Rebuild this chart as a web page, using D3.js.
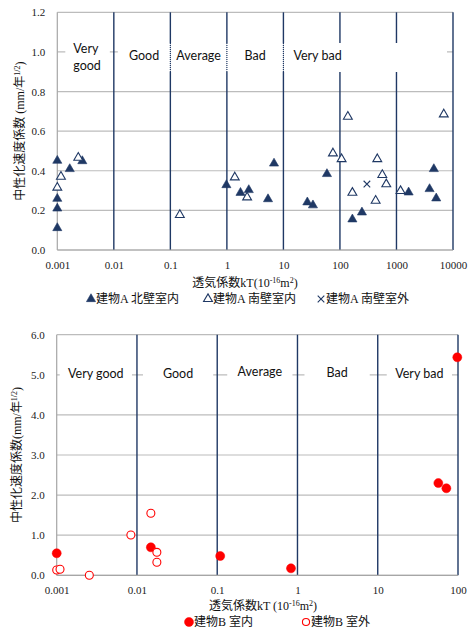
<!DOCTYPE html>
<html>
<head>
<meta charset="utf-8">
<script src="https://cdn.jsdelivr.net/npm/d3@7"></script>
<style>
  html, body { margin: 0; padding: 0; background: #fff; }
  svg { display: block; }
  .grade { font-family: Lato, "Open Sans", sans-serif; font-size: 12.5px; fill: #111; }
  .title { font-family: "Liberation Serif", "Noto Sans CJK JP", serif; font-size: 12px; fill: #111; }
</style>
</head>
<body>
<svg id="chart" width="470" height="630"></svg>
<script>
// Permeability grade boundaries (kT, 10^-16 m^2) and their labels
const gradeEdges = [0.001, 0.01, 0.1, 1, 10, 100];
const gradeNames = ["Very good", "Good", "Average", "Bad", "Very bad"];

// Building A: x-axis ticks and y-axis ticks
const xTicksA = [0.001, 0.01, 0.1, 1, 10, 100, 1000, 10000];
const xTickLabelsA = ["0.001", "0.01", "0.1", "1", "10", "100", "1000", "10000"];
const yTicksA = [0, 0.2, 0.4, 0.6, 0.8, 1.0, 1.2];

// Building A, north wall, indoor side
const aNorthInKT = [0.001, 0.001, 0.001, 0.001, 0.00166, 0.00277, 0.98, 1.74, 2.44, 5.34, 6.82, 26.5, 33.3, 58.9, 166, 245, 1640, 3850, 4580, 5050];
const aNorthInV  = [0.451, 0.259, 0.21, 0.111, 0.409, 0.449, 0.328, 0.289, 0.303, 0.257, 0.437, 0.241, 0.226, 0.384, 0.155, 0.19, 0.291, 0.308, 0.409, 0.261];
// Building A, south wall, indoor side
const aSouthInKT = [0.001, 0.00116, 0.00235, 0.147, 1.38, 2.28, 75.2, 107, 138, 166, 428, 458, 561, 660, 1180, 6870];
const aSouthInV  = [0.315, 0.37, 0.466, 0.177, 0.367, 0.266, 0.488, 0.459, 0.673, 0.289, 0.249, 0.459, 0.379, 0.332, 0.298, 0.685];
// Building A, south wall, outdoor side
const aSouthOutKT = [300];
const aSouthOutV  = [0.333];

// Building B: axis ticks
const xTicksB = [0.001, 0.01, 0.1, 1, 10, 100];
const xTickLabelsB = ["0.001", "0.01", "0.1", "1", "10", "100"];
const yTicksB = [0, 1, 2, 3, 4, 5, 6];

// Building B, indoor side
const bInKT = [0.001, 0.0149, 0.109, 0.83, 56.9, 71.6, 98];
const bInV  = [0.549, 0.698, 0.481, 0.174, 2.30, 2.17, 5.436];
// Building B, outdoor side
const bOutKT = [0.001, 0.0011, 0.00255, 0.0084, 0.0149, 0.0177, 0.0177];
const bOutV  = [0.132, 0.15, 0.0, 1.005, 1.546, 0.573, 0.324];

const NAVY = "#1f3864";
const GRID = "#bcbcbc";
const RED = "#ff0000";
const SERIF = "'Liberation Serif', 'Times New Roman', serif";

const svg = d3.select("#chart");

function zip(xs, ys) { return xs.map((x, i) => ({ x, y: ys[i] })); }

// Writes text with superscript runs: parts = [[text, isSup], ...]
function richText(sel, parts) {
  let up = false;
  parts.forEach(([t, sup]) => {
    const ts = sel.append("tspan").text(t);
    if (sup && !up) { ts.attr("dy", -4).attr("font-size", "8px"); up = true; }
    else if (sup) { ts.attr("font-size", "8px"); }
    else if (!sup && up) { ts.attr("dy", 4); up = false; }
  });
}

function drawPanel(cfg) {
  const g = svg.append("g");
  const x = d3.scaleLog().domain(cfg.xDomain).range([cfg.left, cfg.right]);
  const y = d3.scaleLinear().domain(cfg.yDomain).range([cfg.bottom, cfg.top]);

  // horizontal gridlines
  g.append("g").selectAll("line").data(cfg.yTicks).join("line")
    .attr("x1", cfg.left).attr("x2", cfg.right)
    .attr("y1", d => y(d)).attr("y2", d => y(d))
    .attr("stroke", GRID).attr("stroke-width", 1.2);

  // left axis line
  g.append("line").attr("x1", cfg.left).attr("x2", cfg.left)
    .attr("y1", cfg.top).attr("y2", cfg.bottom)
    .attr("stroke", "#a6a6a6").attr("stroke-width", 1.2);

  // decade boundaries (grade lines)
  g.append("g").selectAll("line").data(cfg.xTicks.slice(1)).join("line")
    .attr("x1", d => x(d)).attr("x2", d => x(d))
    .attr("y1", cfg.top).attr("y2", cfg.bottom)
    .attr("stroke", NAVY).attr("stroke-width", 1.4);

  // grade label boxes
  const boxes = g.append("g");
  cfg.grades.forEach(gd => {
    const x0 = x(gd.lo) + gd.padL, x1 = x(gd.hi) - gd.padR;
    boxes.append("rect").attr("x", x0).attr("y", cfg.boxTop)
      .attr("width", x1 - x0).attr("height", cfg.boxBottom - cfg.boxTop)
      .attr("fill", "#fff");
    const tx = gd.anchor === "start" ? x0 + gd.tx : (x0 + x1) / 2;
    const t = boxes.append("text").attr("class", "grade")
      .attr("text-anchor", gd.anchor || "middle").attr("x", tx);
    gd.lines.forEach((ln, j) => {
      t.append("tspan").attr("x", tx).attr("y", gd.ty[j]).text(ln);
    });
  });
  // dotted edges where boxes meet a grade line
  (cfg.dotted || []).forEach(v => {
    g.append("line").attr("x1", x(v)).attr("x2", x(v))
      .attr("y1", cfg.boxTop).attr("y2", cfg.boxBottom)
      .attr("stroke", NAVY).attr("stroke-width", 1.2).attr("stroke-dasharray", "1,1");
  });

  // bottom axis line
  g.append("line").attr("x1", cfg.left).attr("x2", cfg.right)
    .attr("y1", cfg.bottom).attr("y2", cfg.bottom)
    .attr("stroke", "#a6a6a6").attr("stroke-width", 1.2);

  // tick labels
  const ya = d3.axisLeft(y).tickValues(cfg.yTicks).tickSize(0).tickPadding(12)
    .tickFormat(d3.format(".1f"));
  g.append("g").attr("transform", `translate(${cfg.left},0)`).call(ya)
    .attr("font-family", SERIF).attr("font-size", 11)
    .call(s => s.select(".domain").remove())
    .call(s => s.selectAll("text").attr("fill", "#222"));
  const xa = d3.axisBottom(x).tickValues(cfg.xTicks).tickSize(0).tickPadding(11)
    .tickFormat((d, i) => cfg.xTickLabels[i]);
  g.append("g").attr("transform", `translate(0,${cfg.bottom})`).call(xa)
    .attr("font-family", SERIF).attr("font-size", 11)
    .call(s => s.select(".domain").remove())
    .call(s => s.selectAll("text").attr("fill", "#222"));

  // axis titles
  const xt = g.append("text").attr("class", "title").attr("text-anchor", "middle")
    .attr("x", cfg.xTitleX).attr("y", cfg.xTitleY);
  richText(xt, cfg.xTitle);
  const yt = g.append("text").attr("class", "title").attr("text-anchor", "middle")
    .attr("transform", `translate(${cfg.yTitleX},${(cfg.top + cfg.bottom) / 2}) rotate(-90)`);
  richText(yt, cfg.yTitle);

  // data marks
  cfg.series.forEach(s => {
    g.append("g").selectAll("path").data(zip(s.kt, s.v)).join("path")
      .attr("transform", d => `translate(${x(d.x)},${y(d.y)})`)
      .attr("d", d3.symbol(s.type, s.size)())
      .attr("fill", s.fill).attr("stroke", s.stroke).attr("stroke-width", s.sw);
  });

  // legend
  const lg = g.append("g");
  cfg.series.forEach(s => {
    lg.append("path").attr("transform", `translate(${s.lx},${cfg.legendY})`)
      .attr("d", d3.symbol(s.type, s.lsize || s.size)())
      .attr("fill", s.fill).attr("stroke", s.stroke).attr("stroke-width", s.sw);
    lg.append("text").attr("class", "title").attr("x", s.lx + 5).attr("y", cfg.legendY)
      .attr("dy", "0.36em").text(s.name);
  });
}

const triFilled = { type: d3.symbolTriangle, size: 36, fill: NAVY, stroke: NAVY, sw: 0.6 };
const triOpen = { type: d3.symbolTriangle, size: 34, fill: "#fff", stroke: NAVY, sw: 1.1 };
const cross = { type: d3.symbolTimes, size: 30, fill: "none", stroke: NAVY, sw: 1.1 };

drawPanel({
  left: 57.3, right: 453, top: 12.3, bottom: 250,
  xDomain: [0.001, 10000], yDomain: [0, 1.2],
  xTicks: xTicksA, xTickLabels: xTickLabelsA, yTicks: yTicksA,
  boxTop: 43, boxBottom: 72,
  grades: [
    { lo: gradeEdges[0], hi: gradeEdges[1], padL: 8, padR: 4, lines: ["Very", "good"], ty: [53, 70], anchor: "start", tx: 8 },
    { lo: gradeEdges[1], hi: gradeEdges[2], padL: 4, padR: 0, lines: [gradeNames[1]], ty: [60] },
    { lo: gradeEdges[2], hi: gradeEdges[3], padL: 0, padR: 0, lines: [gradeNames[2]], ty: [60] },
    { lo: gradeEdges[3], hi: gradeEdges[4], padL: 0, padR: 0, lines: [gradeNames[3]], ty: [60] },
    { lo: gradeEdges[4], hi: 10000, padL: 0, padR: 6, lines: [gradeNames[4]], ty: [60], anchor: "start", tx: 10 }
  ],
  dotted: [0.1, 1, 10],
  xTitle: [["透気係数kT(10", false], ["-16", true], ["m", false], ["2", true], [")", false]],
  xTitleX: 245, xTitleY: 287,
  yTitle: [["中性化速度係数 (mm/年", false], ["1/2", true], [")", false]],
  yTitleX: 24,
  legendY: 299,
  series: [
    Object.assign({ kt: aNorthInKT, v: aNorthInV, name: "建物A 北壁室内", lx: 91 }, triFilled),
    Object.assign({ kt: aSouthInKT, v: aSouthInV, name: "建物A 南壁室内", lx: 208 }, triOpen),
    Object.assign({ kt: aSouthOutKT, v: aSouthOutV, name: "建物A 南壁室外", lx: 321 }, cross)
  ]
});

drawPanel({
  left: 56.7, right: 458, top: 334.7, bottom: 575.3,
  xDomain: [0.001, 100], yDomain: [0, 6],
  xTicks: xTicksB, xTickLabels: xTickLabelsB, yTicks: yTicksB,
  boxTop: 362, boxBottom: 386,
  grades: [
    { lo: gradeEdges[0], hi: gradeEdges[1], padL: 3, padR: 5, lines: [gradeNames[0]], ty: [378] },
    { lo: gradeEdges[1], hi: gradeEdges[2], padL: 6, padR: 4, lines: [gradeNames[1]], ty: [378] },
    { lo: gradeEdges[2], hi: gradeEdges[3], padL: 10, padR: 5, lines: [gradeNames[2]], ty: [376] },
    { lo: gradeEdges[3], hi: gradeEdges[4], padL: 7, padR: 8, lines: [gradeNames[3]], ty: [377] },
    { lo: gradeEdges[4], hi: gradeEdges[5], padL: 9, padR: 6, lines: [gradeNames[4]], ty: [378] }
  ],
  dotted: [],
  xTitle: [["透気係数kT (10", false], ["-16", true], ["m", false], ["2", true], [")", false]],
  xTitleX: 263, xTitleY: 610,
  yTitle: [["中性化速度係数(mm/年", false], ["1/2", true], [")", false]],
  yTitleX: 21,
  legendY: 622,
  series: [
    { kt: bInKT, v: bInV, name: "建物B 室内", lx: 189, type: d3.symbolCircle, size: 64, fill: RED, stroke: RED, sw: 0.5 },
    { kt: bOutKT, v: bOutV, name: "建物B 室外", lx: 306, type: d3.symbolCircle, size: 50, lsize: 40, fill: "#fff", stroke: RED, sw: 1.1 }
  ]
});
</script>
</body>
</html>
